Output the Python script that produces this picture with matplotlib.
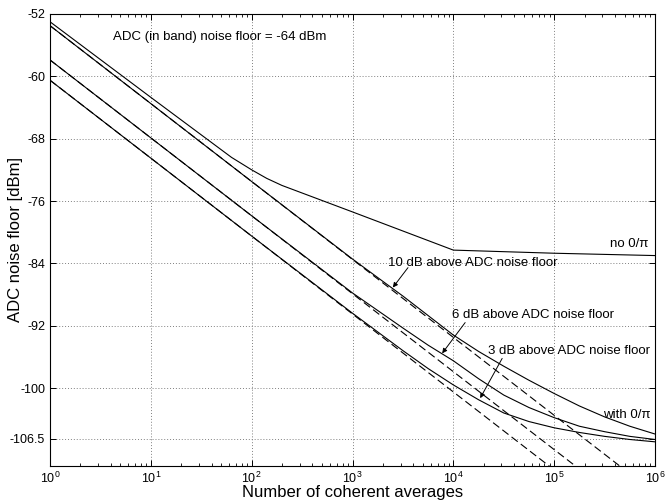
import matplotlib.pyplot as plt
import numpy as np

plt.rcParams['font.family'] = ['Liberation Sans', 'DejaVu Sans']
plt.rcParams['mathtext.fontset'] = 'custom'
plt.rcParams['mathtext.rm'] = 'Liberation Sans'
plt.rcParams['mathtext.it'] = 'Liberation Sans:italic'

# ideal 10*log10(N) lines (dashed), end points
ideal_n = [1, 1e6]
ideal_10db = [-53.5, -113.5]
ideal_6db = [-57.9, -117.9]
ideal_3db = [-60.5, -120.5]

# without 0/pi
no_0pi_logn = [0, 1.0, 1.8, 2.0, 2.15, 2.3, 3.0, 4.0, 4.5, 5.0, 5.5, 6.0]
no_0pi_db = [-53.0, -62.7, -70.4, -72.0, -73.1, -74.0, -77.4, -82.3, -82.5, -82.7, -82.85, -83.0]

# with 0/pi
with_logn = [0, 1, 2, 3, 3.5, 3.75, 4.0, 4.25, 4.5, 4.75, 5.0, 5.25, 5.5, 5.75, 6.0]
with_10db = [-53.5, -63.5, -73.5, -83.45, -88.2, -90.7, -93.2, -95.3, -97.2, -99.0, -100.7, -102.3, -103.7, -104.9, -105.9]
with_6db = [-57.9, -67.9, -77.9, -87.8, -92.3, -94.5, -96.5, -98.8, -100.9, -102.5, -103.8, -104.9, -105.6, -106.2, -106.6]
with_3db = [-60.5, -70.5, -80.5, -90.4, -95.2, -97.5, -99.6, -101.5, -103.2, -104.3, -105.1, -105.7, -106.2, -106.6, -106.9]

yticks = [-52, -60, -68, -76, -84, -92, -100, -106.5]
ytick_labels = ['-52', '-60', '-68', '-76', '-84', '-92', '-100', '-106.5']

fig = plt.figure(figsize=(6.65, 5.03), dpi=100)
ax = fig.add_axes([0.0752, 0.0736, 0.9098, 0.8986])

lw = 0.8
dash = (0, (7, 3.5))
ax.plot(ideal_n, ideal_10db, color='k', lw=lw, linestyle=dash)
ax.plot(ideal_n, ideal_6db, color='k', lw=lw, linestyle=dash)
ax.plot(ideal_n, ideal_3db, color='k', lw=lw, linestyle=dash)

ax.plot(10.0 ** np.array(no_0pi_logn), no_0pi_db, color='k', lw=lw)
n_with = 10.0 ** np.array(with_logn)
ax.plot(n_with, with_10db, color='k', lw=lw)
ax.plot(n_with, with_6db, color='k', lw=lw)
ax.plot(n_with, with_3db, color='k', lw=lw)

ax.set_xscale('log')
ax.set_xlim(1, 1e6)
ax.set_ylim(-110, -52)
ax.set_yticks(yticks)
ax.set_yticklabels(ytick_labels)
ax.set_xticks([1, 10, 100, 1e3, 1e4, 1e5, 1e6])

ax.grid(True, which='major', linestyle=(0, (1, 2)), color='0.5', linewidth=0.7)
ax.tick_params(which='both', direction='in', top=True, right=True, labelsize=9, colors='k')
ax.tick_params(which='major', length=4, width=0.7)
ax.tick_params(which='minor', length=2.2, width=0.6)
for s in ax.spines.values():
    s.set_linewidth(0.8)

ax.set_xlabel('Number of coherent averages', fontsize=12)
ax.set_ylabel('ADC noise floor [dBm]', fontsize=12)
ax.xaxis.set_label_coords(0.5, -0.042)
ax.yaxis.set_label_coords(-0.045, 0.5)

fs = 9.5
ax.text(10 ** 0.625, -54.9, 'ADC (in band) noise floor = -64 dBm', fontsize=fs, va='center')
ax.text(10 ** 3.353, -83.9, '10 dB above ADC noise floor', fontsize=fs, va='center')
ax.text(10 ** 3.988, -90.6, '6 dB above ADC noise floor', fontsize=fs, va='center')
ax.text(10 ** 4.345, -95.2, '3 dB above ADC noise floor', fontsize=fs, va='center')
ax.text(10 ** 5.556, -81.5, 'no 0/\u03c0', fontsize=fs, va='center')
ax.text(10 ** 5.486, -103.5, 'with 0/\u03c0', fontsize=fs, va='center')

arrow = dict(arrowstyle='-|>', color='k', lw=0.7, mutation_scale=7, shrinkA=0, shrinkB=0)
ax.annotate('', xy=(10 ** 3.40, -87.1), xytext=(10 ** 3.55, -84.55), arrowprops=arrow)
ax.annotate('', xy=(10 ** 3.889, -95.55), xytext=(10 ** 4.117, -91.6), arrowprops=arrow)
ax.annotate('', xy=(10 ** 4.266, -101.3), xytext=(10 ** 4.484, -96.2), arrowprops=arrow)

fig.savefig('out.png', dpi=100)
